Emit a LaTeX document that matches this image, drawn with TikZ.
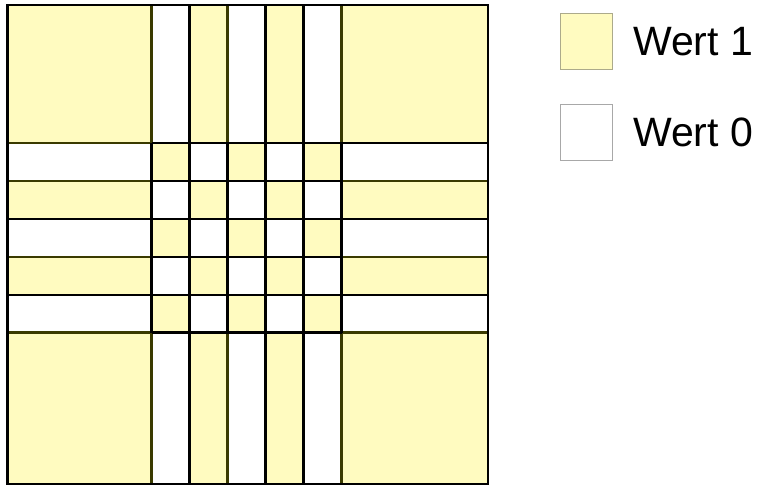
\documentclass[tikz,border=0pt]{standalone}
\usepackage{fontspec}
\setmainfont{Liberation Sans}
\definecolor{wy}{HTML}{FFFBC0}
\definecolor{olv}{HTML}{3A3A00}
\definecolor{gbr}{HTML}{A8A8A8}
\begin{document}
\begin{tikzpicture}[x=1pt,y=-1pt,
  ycell/.style={fill=wy},
  wcell/.style={fill=white},
  yedge/.style={draw=olv,line width=2.3pt},
  wedge/.style={draw=gbr,line width=0.8pt},
  blk/.style={draw=black,line width=2.4pt},
  legy/.style={fill=wy,draw=black!25!wy!70!gray,line width=0.8pt},
  legw/.style={fill=white,draw=gbr,line width=0.8pt},
  lab/.style={anchor=west,inner sep=0pt,font=\fontsize{41}{41}\selectfont}]
\useasboundingbox (0,0) rectangle (761,485);
\def\xs{{7.5,151.5,189.5,227.5,265.5,303.5,341.5,488}}
\def\ys{{5,143,181,219,257,295,332.5,484}}
% cells: value 1 (yellow) if row parity equals column parity
\foreach \i in {0,...,6}{
  \foreach \j in {0,...,6}{
    \pgfmathsetmacro{\xa}{\xs[\i]}
    \pgfmathsetmacro{\xb}{\xs[\i+1]}
    \pgfmathsetmacro{\ya}{\ys[\j]}
    \pgfmathsetmacro{\yb}{\ys[\j+1]}
    \pgfmathtruncatemacro{\v}{mod(\i+\j,2)}
    \ifnum\v=0
      \path[ycell] (\xa,\ya) rectangle (\xb,\yb);
    \else
      \path[wcell,wedge] (\xa,\ya) rectangle (\xb,\yb);
    \fi
  }
}
% olive borders of the yellow cells
\foreach \i in {0,...,6}{
  \foreach \j in {0,...,6}{
    \pgfmathsetmacro{\xa}{\xs[\i]}
    \pgfmathsetmacro{\xb}{\xs[\i+1]}
    \pgfmathsetmacro{\ya}{\ys[\j]}
    \pgfmathsetmacro{\yb}{\ys[\j+1]}
    \pgfmathtruncatemacro{\v}{mod(\i+\j,2)}
    \ifnum\v=0
      \path[yedge] (\xa,\ya) rectangle (\xb,\yb);
    \fi
  }
}
% black lines of the central lattice
\foreach \k in {1,...,6}{
  \pgfmathsetmacro{\xk}{\xs[\k]}
  \pgfmathsetmacro{\yk}{\ys[\k]}
  \path[blk] (\xk,143) -- (\xk,332.5);
  \path[blk] (151.5,\yk) -- (341.5,\yk);
}
% black edges running through the outer bands
\path[blk] (7.5,219) -- (488,219);
\path[blk] (7.5,295) -- (488,295);
\path[blk] (341.5,143) -- (488,143);
\path[blk] (189.5,5) -- (189.5,484);
\path[blk] (265.5,5) -- (265.5,484);
\path[blk] (303.5,5) -- (303.5,484);
% outer frame
\draw[line width=2.8pt] (7.5,5) rectangle (488,484);
% legend
\node[legy,minimum width=52pt,minimum height=56pt,inner sep=0pt] (k1) at (586,41.3) {};
\node[legw,minimum width=52pt,minimum height=56pt,inner sep=0pt] (k0) at (586,132.3) {};
\node[lab] (t1) at (633,41.3) {Wert 1};
\node[lab] (t0) at (633,132.3) {Wert 0};
\end{tikzpicture}
\end{document}
